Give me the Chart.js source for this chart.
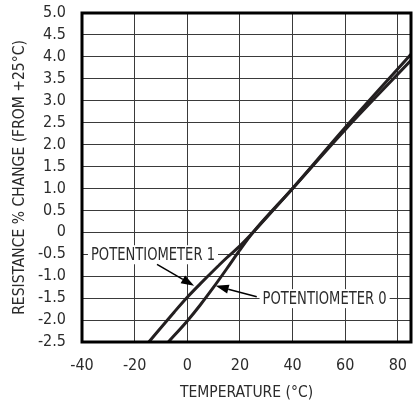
<!DOCTYPE html>
<html>
<head>
<meta charset="utf-8">
<script src="https://cdn.jsdelivr.net/npm/chart.js@4"></script>
<style>
  html, body { margin: 0; padding: 0; background: #fff; }
  #wrap { width: 417px; height: 404px; }
</style>
</head>
<body>
<div id="wrap"><canvas id="c" width="417" height="404"></canvas></div>
<script>
// ---- data ----
const pot1Temps  = [-14.6, -5, 0, 5, 10, 15, 20, 25, 40, 60, 85];
const pot1Values = [-2.5, -1.82, -1.48, -1.17, -0.87, -0.58, -0.31, 0.0, 1.0, 2.34, 3.92];
const pot0Temps  = [-7.2, 0, 5, 10, 15, 20, 25, 40, 60, 85];
const pot0Values = [-2.5, -2.02, -1.65, -1.25, -0.83, -0.4, 0.0, 1.0, 2.39, 4.06];
const xTickValues = [-40, -20, 0, 20, 40, 60, 80];
const yTickValues = [5.0, 4.5, 4.0, 3.5, 3.0, 2.5, 2.0, 1.5, 1.0, 0.5, 0, -0.5, -1.0, -1.5, -2.0, -2.5];
const yTickLabels = ['5.0','4.5','4.0','3.5','3.0','2.5','2.0','1.5','1.0','0.5','0','-0.5','-1.0','-1.5','-2.0','-2.5'];
const xTitle = 'TEMPERATURE (°C)';
const yTitle = 'RESISTANCE % CHANGE (FROM +25°C)';
const noteTexts   = ['POTENTIOMETER 1', 'POTENTIOMETER 0'];
const noteAnchors = [[-36.6, -0.5], [28.6, -1.5]];
const arrowFrom   = [[-11.5, -0.73], [26.4, -1.47]];
const arrowTo     = [[2.6, -1.22], [10.8, -1.22]];

const FONT = "'DejaVu Sans Condensed', 'Liberation Sans Narrow', sans-serif";
const INK = '#231f20';
const TEXT = '#2b2b2b';

const toXY = (xs, ys) => xs.map((x, i) => ({x: x, y: ys[i]}));

const annotPlugin = {
  id: 'annot',
  afterDatasetsDraw(chart) {
    const {ctx, chartArea: a, scales: {x, y}} = chart;
    ctx.save();
    // frame
    ctx.strokeStyle = '#000';
    ctx.lineWidth = 3;
    ctx.strokeRect(a.left, a.top, a.right - a.left, a.bottom - a.top);
    // notes (condensed horizontally to mimic a condensed face)
    ctx.font = '18px ' + FONT;
    ctx.textBaseline = 'middle';
    ctx.textAlign = 'left';
    const sx = 0.81;
    noteTexts.forEach((t, i) => {
      const px = x.getPixelForValue(noteAnchors[i][0]);
      const py = y.getPixelForValue(noteAnchors[i][1]);
      const w = ctx.measureText(t).width * sx;
      ctx.fillStyle = '#fff';
      ctx.fillRect(px - 3, py - 9, w + 6, 19);
      ctx.save();
      ctx.translate(px, py + 1);
      ctx.scale(sx, 1);
      ctx.fillStyle = TEXT;
      ctx.fillText(t, 0, 0);
      ctx.restore();
    });
    // arrows
    ctx.strokeStyle = '#000';
    ctx.fillStyle = '#000';
    arrowFrom.forEach((f, i) => {
      const x0 = x.getPixelForValue(f[0]), y0 = y.getPixelForValue(f[1]);
      const x1 = x.getPixelForValue(arrowTo[i][0]), y1 = y.getPixelForValue(arrowTo[i][1]);
      const ang = Math.atan2(y1 - y0, x1 - x0);
      const L = 13, W = 4.5;
      const bx = x1 - L * Math.cos(ang), by = y1 - L * Math.sin(ang);
      ctx.lineWidth = 1.5;
      ctx.beginPath();
      ctx.moveTo(x0, y0);
      ctx.lineTo(bx, by);
      ctx.stroke();
      ctx.beginPath();
      ctx.moveTo(x1, y1);
      ctx.lineTo(bx - W * Math.sin(ang), by + W * Math.cos(ang));
      ctx.lineTo(bx + W * Math.sin(ang), by - W * Math.cos(ang));
      ctx.closePath();
      ctx.fill();
    });
    ctx.restore();
  }
};

new Chart(document.getElementById('c'), {
  type: 'scatter',
  data: {
    datasets: [
      { label: 'POTENTIOMETER 1', data: toXY(pot1Temps, pot1Values), showLine: true,
        borderColor: INK, borderWidth: 3, pointRadius: 0, cubicInterpolationMode: 'monotone' },
      { label: 'POTENTIOMETER 0', data: toXY(pot0Temps, pot0Values), showLine: true,
        borderColor: INK, borderWidth: 3, pointRadius: 0, cubicInterpolationMode: 'monotone' }
    ]
  },
  options: {
    responsive: false,
    animation: false,
    devicePixelRatio: 1,
    layout: { padding: { top: 13, right: 6, left: 0, bottom: 0 } },
    plugins: { legend: { display: false }, tooltip: { enabled: false } },
    scales: {
      x: {
        type: 'linear', min: -40, max: 85,
        afterBuildTicks: s => { s.ticks = xTickValues.map(v => ({value: v})); },
        afterFit: s => { s.height = 62; s.paddingLeft = 0; s.paddingRight = 0; },
        grid: { color: '#3a3a3a', lineWidth: 1, drawTicks: false },
        border: { display: false },
        ticks: { color: TEXT, padding: 14, autoSkip: false, font: { family: FONT, size: 16 }, maxRotation: 0 },
        title: { display: true, text: xTitle, color: TEXT, font: { family: FONT, size: 15.5 }, padding: { top: 0, bottom: 2 } }
      },
      y: {
        type: 'linear', min: -2.5, max: 5,
        afterBuildTicks: s => { s.ticks = yTickValues.map(v => ({value: v})); },
        afterFit: s => { s.width = 82; s.paddingTop = 0; s.paddingBottom = 0; },
        grid: { color: '#3a3a3a', lineWidth: 1, drawTicks: false },
        border: { display: false },
        ticks: { color: TEXT, padding: 16, autoSkip: false, font: { family: FONT, size: 16 },
          callback: (v) => { const i = yTickValues.indexOf(v); return i >= 0 ? yTickLabels[i] : ''; } },
        title: { display: true, text: yTitle, color: TEXT, font: { family: FONT, size: 15.5 }, padding: { top: 11, bottom: 0 } }
      }
    }
  },
  plugins: [annotPlugin]
});
</script>
</body>
</html>
